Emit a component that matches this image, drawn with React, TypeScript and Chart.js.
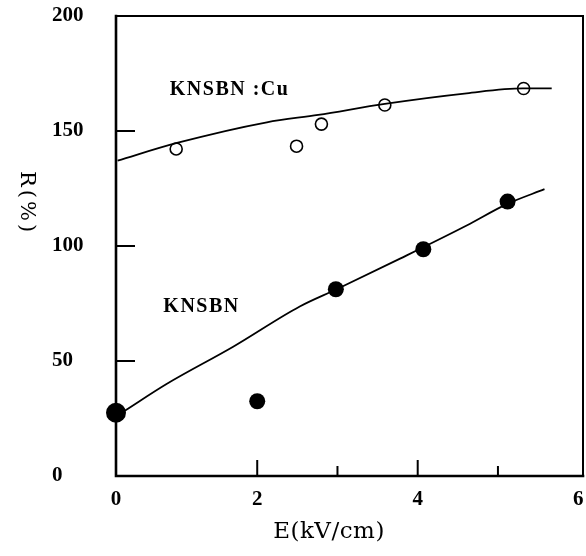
import React, { useEffect, useRef } from 'react';
import { Chart, registerables } from 'chart.js';

Chart.register(...registerables);

// ---- data ----
const X_MIN = 0.24;
const X_MAX = 6.06;
const Y_MIN = 0;
const Y_MAX = 200;

const xLabelTicks = [X_MIN, 2, 4, 6];
const xMajorTicks = [2, 4];
const xMinorTicks = [3, 5];
const yTickValues = [0, 50, 100, 150, 200];
const yMarkTicks = [50, 100, 150];

// KNSBN (filled circles)
const knsbnE = [0.24, 2.0, 2.98, 4.07, 5.12];
const knsbnR = [27.5, 32.5, 81.2, 98.6, 119.3];
// KNSBN:Cu (open circles)
const cuE = [0.99, 2.49, 2.8, 3.59, 5.32];
const cuR = [142.2, 143.4, 153.0, 161.3, 168.5];

// fitted curves
const knsbnFitE = [0.35, 0.87, 1.7, 2.53, 2.99, 3.78, 4.61, 5.11, 5.58];
const knsbnFitR = [28.4, 40.0, 56.2, 73.7, 81.2, 94.5, 108.9, 118.2, 124.7];
const cuFitE = [0.26, 1.0, 2.12, 2.76, 3.59, 4.61, 5.31, 5.67];
const cuFitR = [137.1, 144.8, 153.8, 157.0, 161.8, 166.4, 168.5, 168.5];

const cuLabel = 'KNSBN :Cu';
const knsbnLabel = 'KNSBN';
const xTitle = 'E(kV/cm)';
const yTitle = 'R(%)';

const zip = (xs: number[], ys: number[]) => xs.map((x, i) => ({ x, y: ys[i] }));

const decorPlugin = {
  id: 'decor',
  afterDraw(chart: any) {
    const { ctx, chartArea: a, scales } = chart;
    const xs = scales.x;
    const ys = scales.y;
    ctx.save();
    ctx.strokeStyle = '#000';
    ctx.fillStyle = '#000';
    ctx.lineCap = 'square';
    // frame
    ctx.lineWidth = 2;
    ctx.beginPath();
    ctx.moveTo(a.left, a.top);
    ctx.lineTo(a.right, a.top);
    ctx.lineTo(a.right, a.bottom);
    ctx.stroke();
    ctx.lineWidth = 2.6;
    ctx.beginPath();
    ctx.moveTo(a.left, a.top);
    ctx.lineTo(a.left, a.bottom);
    ctx.lineTo(a.right, a.bottom);
    ctx.stroke();
    // inward ticks
    ctx.lineWidth = 2;
    ctx.lineCap = 'butt';
    const seg = (x1: number, y1: number, x2: number, y2: number) => {
      ctx.beginPath();
      ctx.moveTo(x1, y1);
      ctx.lineTo(x2, y2);
      ctx.stroke();
    };
    xMajorTicks.forEach((v) => {
      const p = xs.getPixelForValue(v);
      seg(p, a.bottom, p, a.bottom - 16);
    });
    xMinorTicks.forEach((v) => {
      const p = xs.getPixelForValue(v);
      seg(p, a.bottom, p, a.bottom - 10);
    });
    yMarkTicks.forEach((v) => {
      const p = ys.getPixelForValue(v);
      seg(a.left, p, a.left + 19, p);
    });

    // series labels
    ctx.font = 'bold 20px "Liberation Serif"';
    (ctx as any).letterSpacing = '1.5px';
    ctx.textAlign = 'left';
    ctx.textBaseline = 'middle';
    ctx.fillText(cuLabel, xs.getPixelForValue(0.91), ys.getPixelForValue(167.7));
    ctx.fillText(knsbnLabel, xs.getPixelForValue(0.83), ys.getPixelForValue(73.7));

    // axis titles
    ctx.font = '23px "DejaVu Serif"';
    (ctx as any).letterSpacing = '0.5px';
    ctx.textAlign = 'center';
    ctx.fillText(xTitle, 329, 532);

    ctx.save();
    ctx.translate(26, 203);
    ctx.rotate(Math.PI / 2);
    ctx.font = '21px "DejaVu Serif"';
    (ctx as any).letterSpacing = '3px';
    ctx.fillText(yTitle, 0, 0);
    ctx.restore();

    ctx.restore();
  },
};

export default function App() {
  const ref = useRef<HTMLCanvasElement | null>(null);

  useEffect(() => {
    if (!ref.current) return;
    const tickFont = { family: '"Liberation Serif"', size: 21, weight: 'bold' as const };
    const chart = new Chart(ref.current, {
      type: 'scatter',
      data: {
        datasets: [
          {
            label: 'KNSBN:Cu fit',
            data: zip(cuFitE, cuFitR),
            showLine: true,
            borderColor: '#000',
            borderWidth: 1.8,
            pointRadius: 0,
            tension: 0.4,
            cubicInterpolationMode: 'monotone',
          } as any,
          {
            label: 'KNSBN fit',
            data: zip(knsbnFitE, knsbnFitR),
            showLine: true,
            borderColor: '#000',
            borderWidth: 1.8,
            pointRadius: 0,
            tension: 0.4,
            cubicInterpolationMode: 'monotone',
          } as any,
          {
            label: 'KNSBN:Cu',
            data: zip(cuE, cuR),
            showLine: false,
            pointRadius: 6,
            pointBorderWidth: 1.6,
            pointBorderColor: '#000',
            pointBackgroundColor: 'rgba(255,255,255,0)',
            clip: false,
          } as any,
          {
            label: 'KNSBN',
            data: zip(knsbnE, knsbnR),
            showLine: false,
            pointRadius: [10, 8, 8, 8, 8],
            pointBorderWidth: 0,
            pointBackgroundColor: '#000',
            clip: false,
          } as any,
        ],
      },
      options: {
        responsive: false,
        animation: false,
        layout: { autoPadding: false, padding: { left: 52, right: 3, top: 16, bottom: 50 } },
        plugins: { legend: { display: false }, tooltip: { enabled: false } },
        scales: {
          x: {
            type: 'linear',
            min: X_MIN,
            max: X_MAX,
            grid: { display: false, drawTicks: false },
            border: { display: false },
            afterBuildTicks: (s: any) => {
              s.ticks = xLabelTicks.map((v) => ({ value: v }));
            },
            afterFit: (s: any) => {
              s.height = 30;
              s.paddingLeft = 0;
              s.paddingRight = 0;
            },
            ticks: {
              padding: 11,
              color: '#000',
              font: tickFont,
              maxRotation: 0,
              autoSkip: false,
              callback: (v: any) => (v === X_MIN ? '0' : String(v)),
            },
          },
          y: {
            type: 'linear',
            min: Y_MIN,
            max: Y_MAX,
            grid: { display: false, drawTicks: false },
            border: { display: false },
            afterBuildTicks: (s: any) => {
              s.ticks = yTickValues.map((v) => ({ value: v }));
            },
            afterFit: (s: any) => {
              s.width = 64;
              s.paddingTop = 0;
              s.paddingBottom = 0;
            },
            ticks: {
              color: '#000',
              font: tickFont,
              crossAlign: 'far',
              autoSkip: false,
            },
          },
        },
      },
      plugins: [decorPlugin],
    });
    return () => chart.destroy();
  }, []);

  return (
    <div style={{ position: 'absolute', left: 0, top: 0, width: 586, height: 556, background: '#fff' }}>
      <canvas ref={ref} width={586} height={556} />
    </div>
  );
}
